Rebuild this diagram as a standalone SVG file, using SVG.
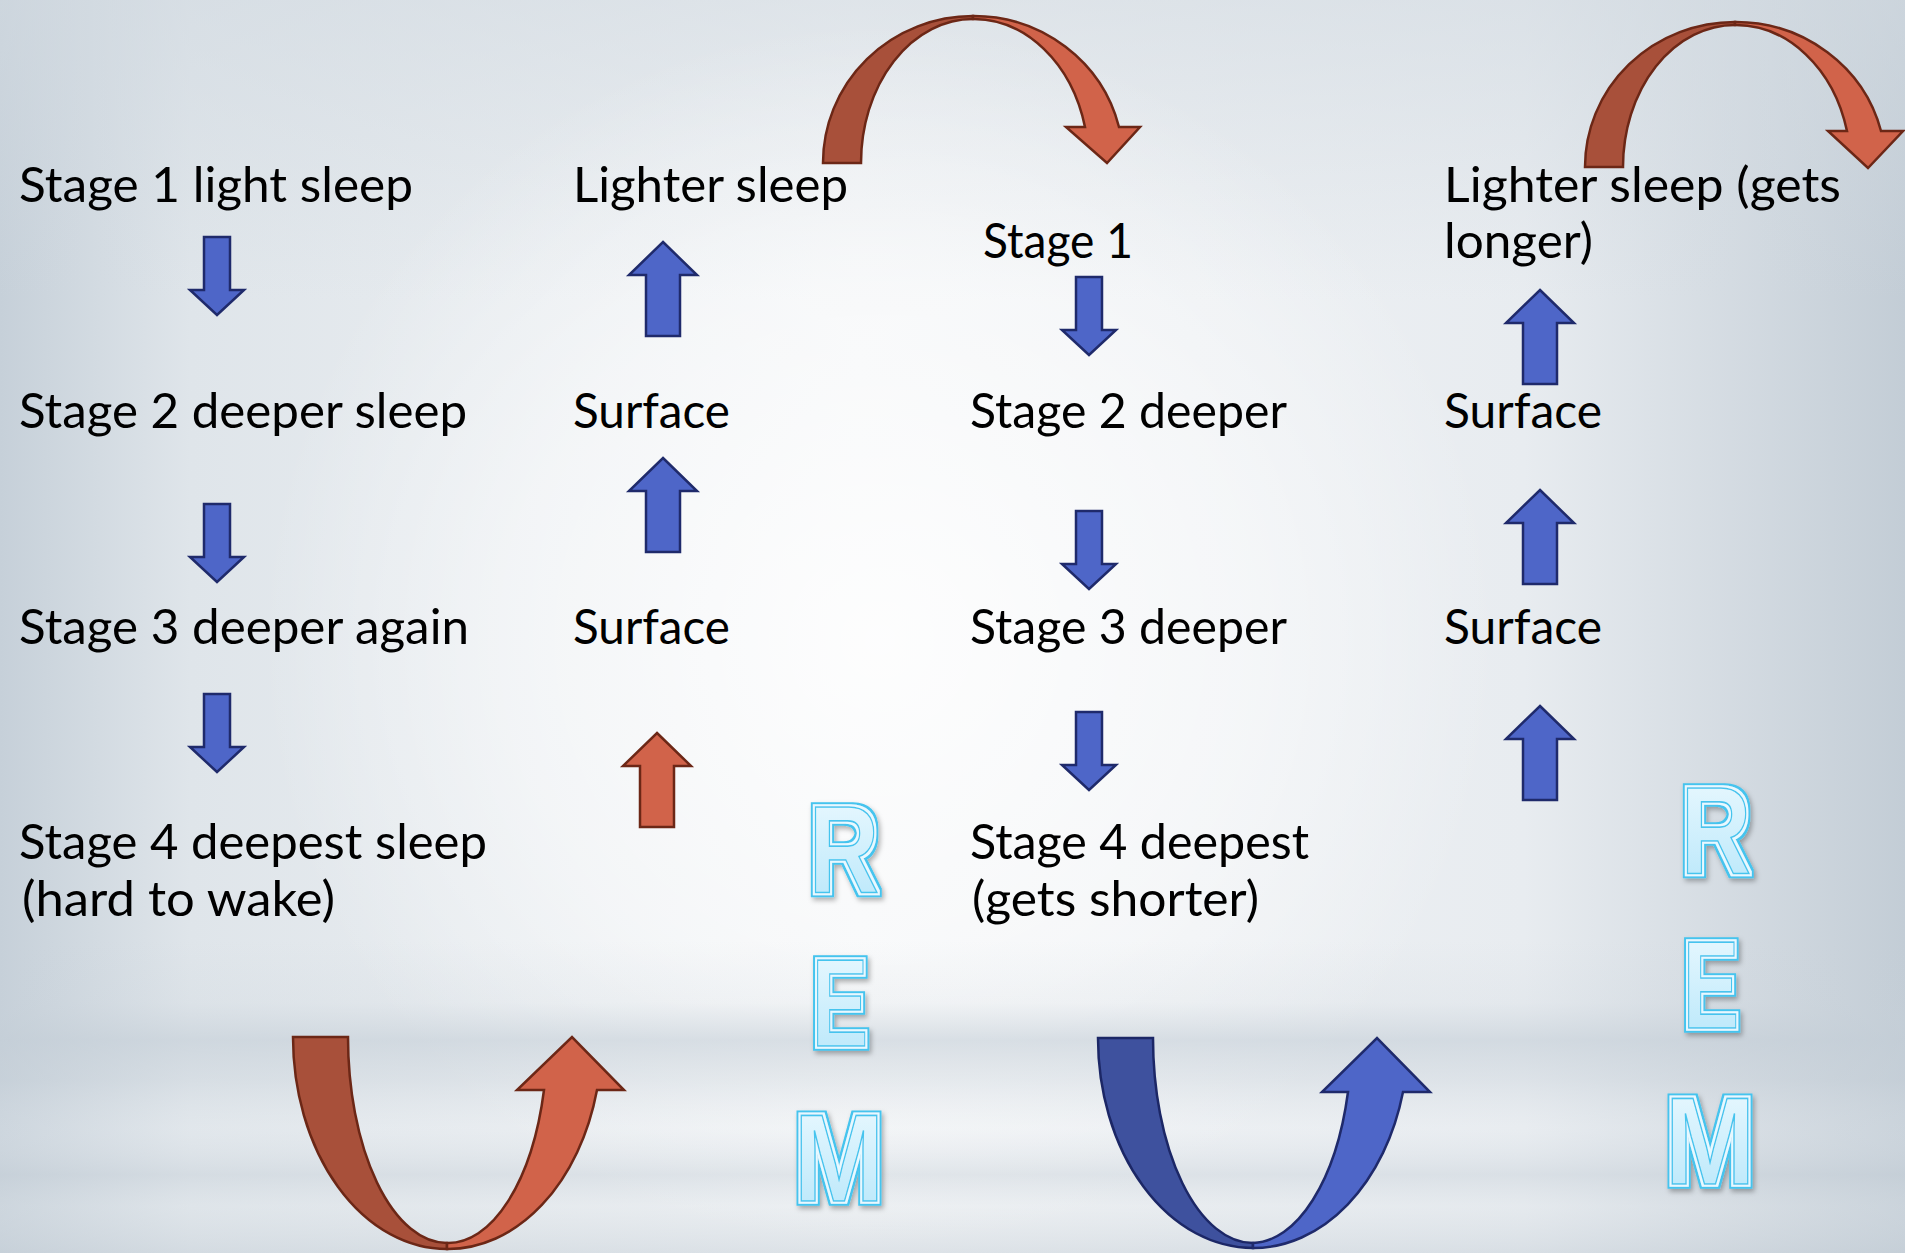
<svg xmlns="http://www.w3.org/2000/svg" width="1905" height="1253" viewBox="0 0 1905 1253">
  <defs>
    <linearGradient id="bgH" x1="0" y1="0" x2="1" y2="0">
      <stop offset="0" stop-color="#C6D0D9"/>
      <stop offset="0.1" stop-color="#DFE5EA"/>
      <stop offset="0.45" stop-color="#F2F4F6"/>
      <stop offset="0.8" stop-color="#E8ECF0"/>
      <stop offset="1" stop-color="#C3CDD6"/>
    </linearGradient>
    <radialGradient id="glow" cx="880" cy="640" r="620" gradientUnits="userSpaceOnUse">
      <stop offset="0" stop-color="#FFFFFF" stop-opacity="0.85"/>
      <stop offset="0.6" stop-color="#FFFFFF" stop-opacity="0.45"/>
      <stop offset="1" stop-color="#FFFFFF" stop-opacity="0"/>
    </radialGradient>
    <linearGradient id="topShade" x1="0" y1="0" x2="0" y2="1">
      <stop offset="0" stop-color="#D2DAE1" stop-opacity="0.6"/>
      <stop offset="1" stop-color="#D2DAE1" stop-opacity="0"/>
    </linearGradient>
    <linearGradient id="floor" x1="0" y1="940" x2="0" y2="1253" gradientUnits="userSpaceOnUse">
      <stop offset="0" stop-color="#C8D1D9" stop-opacity="0"/>
      <stop offset="0.2" stop-color="#C8D1D9" stop-opacity="0.15"/>
      <stop offset="0.32" stop-color="#C4CED7" stop-opacity="0.6"/>
      <stop offset="0.45" stop-color="#C8D1D9" stop-opacity="0.35"/>
      <stop offset="0.6" stop-color="#E9EDF1" stop-opacity="0.2"/>
      <stop offset="0.75" stop-color="#C8D1D9" stop-opacity="0.45"/>
      <stop offset="0.85" stop-color="#DDE3E8" stop-opacity="0.3"/>
      <stop offset="1" stop-color="#C8D1D9" stop-opacity="0.5"/>
    </linearGradient>
    <linearGradient id="remFill" x1="0" y1="0" x2="0" y2="1">
      <stop offset="0" stop-color="#EEFAFF"/>
      <stop offset="1" stop-color="#B5E6FA"/>
    </linearGradient>
    <filter id="remfx" x="-40%" y="-20%" width="180%" height="140%">
      <feMorphology in="SourceAlpha" operator="dilate" radius="3.5" result="d4"/>
      <feMorphology in="SourceAlpha" operator="dilate" radius="1.8" result="d2"/>
      <feGaussianBlur in="d4" stdDeviation="2.5" result="blur"/>
      <feOffset in="blur" dx="2" dy="3" result="sh"/>
      <feFlood flood-color="#000000" flood-opacity="0.3"/>
      <feComposite in2="sh" operator="in" result="shadow"/>
      <feFlood flood-color="#45C4EE"/>
      <feComposite in2="d4" operator="in" result="outer"/>
      <feFlood flood-color="#E8F9FF"/>
      <feComposite in2="d2" operator="in" result="gap"/>
      <feMerge>
        <feMergeNode in="shadow"/>
        <feMergeNode in="outer"/>
        <feMergeNode in="gap"/>
        <feMergeNode in="SourceGraphic"/>
      </feMerge>
    </filter>
    <path id="down" d="M -13,0 H 13 V 53 H 27 L 0,78 L -27,53 H -13 Z"/>
    <path id="up" d="M 0,0 L 34,33 H 17 V 94 H -17 V 33 H -34 Z"/>
    <style>
      .lbl { font-family: Lato, "Liberation Sans", sans-serif; font-size: 48px; fill: #000000; }
      .rem { font-family: "Liberation Sans", Arial, sans-serif; font-weight: 700; font-size: 125px; text-anchor: middle; fill: url(#remFill); stroke: #45C4EE; stroke-width: 1.6; filter: url(#remfx); }
      .blue { fill: #4E66C8; stroke: #1F2A6B; stroke-width: 2.5; stroke-linejoin: miter; }
      .red { fill: #D1634A; stroke: #6C2716; stroke-width: 2.5; stroke-linejoin: miter; }
      .redDark { fill: #A8503A; stroke: #6C2716; stroke-width: 2.5; }
      .blueDark { fill: #3E519E; stroke: #1C2766; stroke-width: 2.5; }
    </style>
  </defs>

  <!-- background -->
  <rect x="0" y="0" width="1905" height="1253" fill="url(#bgH)"/>
  <rect x="0" y="0" width="1905" height="300" fill="url(#topShade)"/>
  <rect x="0" y="0" width="1905" height="1253" fill="url(#glow)"/>
  <rect x="0" y="940" width="1905" height="313" fill="url(#floor)"/>

  <!-- column 1 -->
  <g id="stage1-light"><text class="lbl" x="19" y="202" textLength="394" lengthAdjust="spacingAndGlyphs">Stage 1 light sleep</text></g>
  <g id="stage2-deeper-sleep"><text class="lbl" x="19" y="428" textLength="448" lengthAdjust="spacingAndGlyphs">Stage 2 deeper sleep</text></g>
  <g id="stage3-deeper-again"><text class="lbl" x="19" y="644" textLength="450" lengthAdjust="spacingAndGlyphs">Stage 3 deeper again</text></g>
  <g id="stage4-deepest-sleep">
    <text class="lbl" x="19" y="859" textLength="468" lengthAdjust="spacingAndGlyphs">Stage 4 deepest sleep</text>
    <text class="lbl" x="22" y="916" textLength="313" lengthAdjust="spacingAndGlyphs">(hard to wake)</text>
  </g>

  <!-- column 2 -->
  <g id="lighter-sleep-1"><text class="lbl" x="573" y="202" textLength="275" lengthAdjust="spacingAndGlyphs">Lighter sleep</text></g>
  <g id="surface-1a"><text class="lbl" x="573" y="428" textLength="157" lengthAdjust="spacingAndGlyphs">Surface</text></g>
  <g id="surface-1b"><text class="lbl" x="573" y="644" textLength="157" lengthAdjust="spacingAndGlyphs">Surface</text></g>

  <!-- column 3 -->
  <g id="stage1-b"><text class="lbl" x="983" y="258" textLength="150" lengthAdjust="spacingAndGlyphs">Stage 1</text></g>
  <g id="stage2-deeper"><text class="lbl" x="970" y="428" textLength="317" lengthAdjust="spacingAndGlyphs">Stage 2 deeper</text></g>
  <g id="stage3-deeper"><text class="lbl" x="970" y="644" textLength="317" lengthAdjust="spacingAndGlyphs">Stage 3 deeper</text></g>
  <g id="stage4-deepest">
    <text class="lbl" x="970" y="859" textLength="339" lengthAdjust="spacingAndGlyphs">Stage 4 deepest</text>
    <text class="lbl" x="972" y="916" textLength="287" lengthAdjust="spacingAndGlyphs">(gets shorter)</text>
  </g>

  <!-- column 4 -->
  <g id="lighter-sleep-2">
    <text class="lbl" x="1444" y="202" textLength="397" lengthAdjust="spacingAndGlyphs">Lighter sleep (gets</text>
    <text class="lbl" x="1444" y="258" textLength="149" lengthAdjust="spacingAndGlyphs">longer)</text>
  </g>
  <g id="surface-2a"><text class="lbl" x="1444" y="428" textLength="158" lengthAdjust="spacingAndGlyphs">Surface</text></g>
  <g id="surface-2b"><text class="lbl" x="1444" y="644" textLength="158" lengthAdjust="spacingAndGlyphs">Surface</text></g>

  <!-- REM labels -->
  <g id="rem-1">
    <text class="rem" x="844" y="893" textLength="70" lengthAdjust="spacingAndGlyphs">R</text>
    <text class="rem" x="840" y="1046" textLength="56" lengthAdjust="spacingAndGlyphs">E</text>
    <text class="rem" x="839" y="1201" textLength="90" lengthAdjust="spacingAndGlyphs">M</text>
  </g>
  <g id="rem-2">
    <text class="rem" x="1716" y="874" textLength="70" lengthAdjust="spacingAndGlyphs">R</text>
    <text class="rem" x="1711" y="1028" textLength="56" lengthAdjust="spacingAndGlyphs">E</text>
    <text class="rem" x="1710" y="1184" textLength="90" lengthAdjust="spacingAndGlyphs">M</text>
  </g>

  <!-- connectors -->
  <g id="connectors">
    <!-- column 1 down arrows -->
    <use href="#down" class="blue" transform="translate(217,237)"/>
    <use href="#down" class="blue" transform="translate(217,504)"/>
    <use href="#down" class="blue" transform="translate(217,694)"/>
    <!-- column 3 down arrows -->
    <use href="#down" class="blue" transform="translate(1089,277)"/>
    <use href="#down" class="blue" transform="translate(1089,511)"/>
    <use href="#down" class="blue" transform="translate(1089,712)"/>
    <!-- column 2 up arrows -->
    <use href="#up" class="blue" transform="translate(663,242)"/>
    <use href="#up" class="blue" transform="translate(663,458)"/>
    <use href="#up" class="red" transform="translate(657,733)"/>
    <!-- column 4 up arrows -->
    <use href="#up" class="blue" transform="translate(1540,290)"/>
    <use href="#up" class="blue" transform="translate(1540,490)"/>
    <use href="#up" class="blue" transform="translate(1540,706)"/>

    <!-- top curved arrow 1 -->
    <path class="redDark" d="M 823,163 A 150,147 0 0 1 973,16 L 973,19 A 112,144 0 0 0 861,163 Z"/>
    <path class="red" d="M 973,16 A 150,147 0 0 1 1119,127 L 1140,127 L 1107,163 L 1066,127 L 1085,127 A 115,144 0 0 0 973,19 Z"/>
    <!-- top curved arrow 2 -->
    <path class="redDark" d="M 1585,167 A 150,145 0 0 1 1735,22 L 1735,25 A 112,142 0 0 0 1623,167 Z"/>
    <path class="red" d="M 1735,22 A 150,145 0 0 1 1881,131 L 1903,131 L 1868,168 L 1828,131 L 1847,131 A 115,142 0 0 0 1735,25 Z"/>
    <!-- bottom U arrow red -->
    <path class="redDark" d="M 293,1037 A 154,212 0 0 0 447,1249 L 447,1243 A 99,206 0 0 1 348,1037 Z"/>
    <path class="red" d="M 447,1249 A 154,212 0 0 0 597,1090 L 624,1090 L 572,1037 L 517,1090 L 544,1090 A 99,206 0 0 1 447,1243 Z"/>
    <!-- bottom U arrow blue -->
    <path class="blueDark" d="M 1098,1038 A 155,210 0 0 0 1253,1248 L 1253,1243 A 100,205 0 0 1 1153,1038 Z"/>
    <path class="blue" d="M 1253,1248 A 155,210 0 0 0 1403,1092 L 1430,1092 L 1377,1038 L 1322,1092 L 1348,1092 A 100,205 0 0 1 1253,1243 Z"/>
  </g>
</svg>
